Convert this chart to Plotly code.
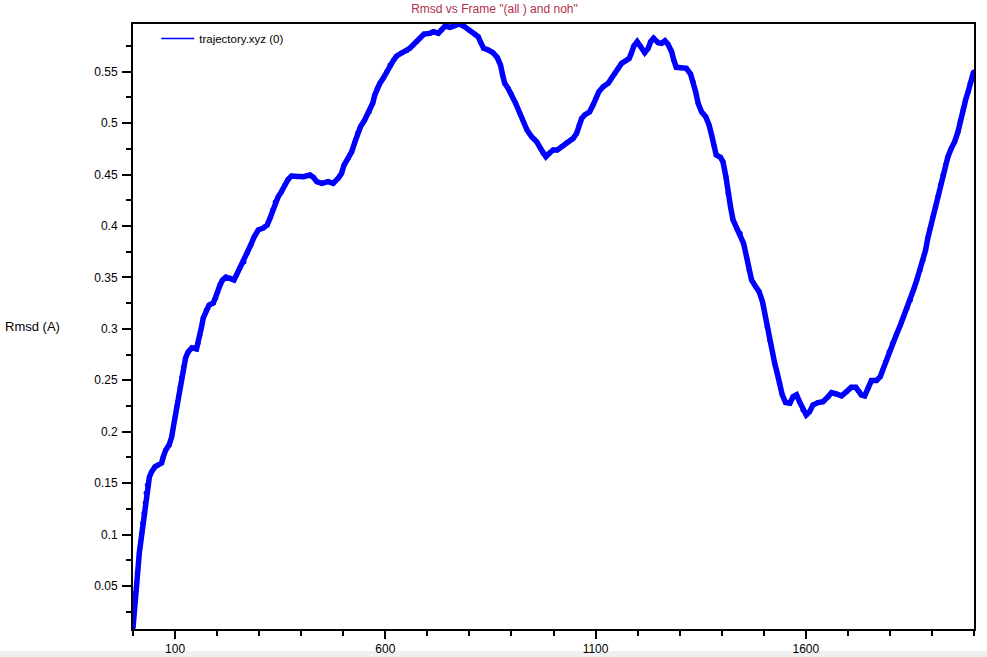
import plotly.graph_objects as go

# Frame numbers and RMSD values
frames = [0, 1, 2, 5, 6, 9, 10, 13, 15, 18, 21, 23, 26, 29, 31, 34, 39, 44, 52, 60, 68, 72, 78, 86, 92, 96,
          100, 104, 108, 112, 116, 120, 125, 131, 140, 151, 155, 159, 163, 167, 174, 181, 191, 197, 201, 207,
          213, 221, 231, 240, 246, 254, 264, 272, 280, 288, 298, 310, 319, 326, 332, 338, 345,
          353, 361, 369, 377, 389, 405, 421, 429, 437, 449, 464, 476, 488, 496, 502, 512, 520, 528, 534,
          541, 551, 562, 570, 575, 581, 587, 595, 603, 611, 620, 627, 639, 651, 658, 666, 674, 682,
          692, 706, 715, 726, 734, 742, 754, 765, 777, 789, 801, 813, 821, 826, 834, 845, 856, 866, 874,
          879, 884, 892, 900, 910, 920, 929, 937, 948, 960, 969, 975, 982, 990, 999, 1009, 1019, 1031, 1039,
          1047, 1055, 1061, 1067, 1074, 1086, 1094, 1101, 1108, 1118, 1130, 1138, 1146, 1154, 1162, 1172,
          1180, 1185, 1191, 1199, 1207, 1217, 1225, 1231, 1238, 1249, 1257, 1265, 1272, 1281, 1286, 1292,
          1304, 1316, 1326, 1332, 1338, 1344, 1352, 1362, 1370, 1376, 1381, 1387,
          1397, 1403, 1410, 1415, 1421, 1427, 1436, 1444, 1452, 1459, 1465, 1471, 1481, 1489, 1497, 1502,
          1508, 1514, 1521, 1526, 1532, 1538, 1544, 1552, 1562, 1570, 1578, 1585, 1593, 1601, 1609, 1617,
          1629, 1641, 1653, 1661, 1673, 1685, 1697, 1708, 1719, 1727, 1732, 1740, 1748, 1756, 1768, 1777,
          1783, 1790, 1798, 1806, 1815, 1825, 1833, 1841, 1849, 1856, 1864, 1872, 1879, 1885, 1890, 1896,
          1902, 1909, 1914, 1920, 1926, 1932, 1938, 1946, 1954, 1962, 1967, 1974, 1980, 1986, 1991, 1997, 1999]

rmsd = [0.0093, 0.0154, 0.0238, 0.0336, 0.0433, 0.053, 0.0627, 0.0724, 0.0822, 0.0919, 0.1016, 0.1113,
        0.1210, 0.1308, 0.1405, 0.1483, 0.1561, 0.1609, 0.1658, 0.1677, 0.1697, 0.1755, 0.1823, 0.1872,
        0.1949, 0.2047,
        0.2144, 0.2241, 0.2338, 0.2435, 0.2533, 0.2630, 0.2717, 0.2776, 0.2815, 0.2805, 0.2863, 0.2941,
        0.3019, 0.3106, 0.3184, 0.3232, 0.3252, 0.3300, 0.3359, 0.3427,
        0.3475, 0.3504, 0.3495, 0.3475, 0.3524, 0.3592, 0.3650, 0.3737, 0.3815, 0.3893, 0.3961, 0.3981,
        0.4010, 0.4078, 0.4156, 0.4233, 0.4282,
        0.4334, 0.4399, 0.4454, 0.4486, 0.4479, 0.4479, 0.4496, 0.4474, 0.4431, 0.4415, 0.4431, 0.4415,
        0.4464, 0.4512, 0.4593, 0.4658, 0.4722, 0.4820, 0.4901,
        0.4965, 0.5031, 0.5111, 0.5193, 0.5274, 0.5339, 0.5387, 0.5436, 0.5500, 0.5565, 0.5614, 0.5653,
        0.5685, 0.5704, 0.5727, 0.5760, 0.5792, 0.5825,
        0.5866, 0.5873, 0.5889, 0.5873, 0.5905, 0.5944, 0.5932, 0.5954, 0.5964, 0.5937, 0.5899, 0.5866,
        0.5840, 0.5792, 0.5727, 0.5711, 0.5685, 0.5640, 0.5565,
        0.5468, 0.5387, 0.5339, 0.5283, 0.5193, 0.5096, 0.5014, 0.4933, 0.4868, 0.4820, 0.4755, 0.4707,
        0.4674, 0.4707, 0.4739, 0.4739, 0.4771, 0.4810, 0.4829,
        0.4853, 0.4901, 0.4982, 0.5047, 0.5079, 0.5111, 0.5176, 0.5241, 0.5306, 0.5354, 0.5387, 0.5436,
        0.5484, 0.5533, 0.5582, 0.5607,
        0.5630, 0.5679, 0.5750, 0.5792, 0.5750, 0.5685, 0.5727, 0.5792, 0.5825, 0.5782, 0.5776, 0.5801,
        0.5769, 0.5694, 0.5614, 0.5543,
        0.5539, 0.5533, 0.5478, 0.5403, 0.5306, 0.5193, 0.5111, 0.5063, 0.4982, 0.4885, 0.4788, 0.4690,
        0.4668, 0.4625, 0.4479, 0.4318, 0.4188, 0.4059, 0.3978, 0.3929, 0.3832, 0.3702, 0.3573, 0.3475,
        0.3410, 0.3362, 0.3264, 0.3152,
        0.3021, 0.2892, 0.2763, 0.2666, 0.2569, 0.2471, 0.2358, 0.2283, 0.2277, 0.2341, 0.2358, 0.2292,
        0.2212, 0.2163, 0.2195, 0.2260,
        0.2283, 0.2292, 0.2341, 0.2380, 0.2367, 0.2348, 0.2390, 0.2432, 0.2432, 0.2390, 0.2358, 0.2348,
        0.2423, 0.2497, 0.2497, 0.2535,
        0.2600, 0.2681, 0.2778, 0.2860, 0.2941, 0.3038, 0.3119, 0.3200, 0.3281, 0.3378, 0.3475, 0.3573,
        0.3670, 0.3767, 0.3881, 0.3978,
        0.4091, 0.4188, 0.4285, 0.4399, 0.4496, 0.4593, 0.4674, 0.4755, 0.4820, 0.4917, 0.5014, 0.5128,
        0.5225, 0.5306, 0.5387, 0.5468, 0.5497]

x_major_ticks = [100, 600, 1100, 1600]
x_minor_ticks = [0, 200, 300, 400, 500, 700, 800, 900, 1000, 1200, 1300, 1400, 1500, 1700, 1800, 1900, 2000]
y_major_ticks = [0.05, 0.1, 0.15, 0.2, 0.25, 0.3, 0.35, 0.4, 0.45, 0.5, 0.55]
y_major_labels = ["0.05", "0.1", "0.15", "0.2", "0.25", "0.3", "0.35", "0.4", "0.45", "0.5", "0.55"]
y_minor_ticks = [0.025, 0.075, 0.125, 0.175, 0.225, 0.275, 0.325, 0.375, 0.425, 0.475, 0.525, 0.575]

series_name = "trajectory.xyz (0)"
title_text = 'Rmsd vs Frame "(all ) and noh"'
y_title = "Rmsd (A)"

FONT = "Liberation Sans, Arial, sans-serif"
BLUE = "#0000ff"

fig = go.Figure()
fig.add_trace(go.Scatter(
    x=frames, y=rmsd, mode="lines+markers",
    line=dict(color=BLUE, width=5.5),
    marker=dict(color=BLUE, size=5),
    showlegend=False, hoverinfo="skip",
))
fig.add_trace(go.Scatter(
    x=[None], y=[None], mode="lines", name=series_name,
    line=dict(color=BLUE, width=1.3), showlegend=True, hoverinfo="skip",
))

fig.update_layout(
    width=987, height=657, autosize=False,
    margin=dict(l=133, r=13, t=24, b=28, autoexpand=False),
    paper_bgcolor="white", plot_bgcolor="white",
    hovermode=False,
    font=dict(family=FONT, size=12, color="#000000"),
    title=dict(text=title_text, x=0.501, xanchor="center", y=0.986, yanchor="middle",
               font=dict(family=FONT, size=12, color="#b0304a")),
    legend=dict(x=0.0276, y=1.0, xanchor="left", yanchor="top",
                bgcolor="rgba(0,0,0,0)", borderwidth=0, itemwidth=33,
                font=dict(family=FONT, size=11.5, color="#000000")),
    xaxis=dict(
        range=[0, 2000], showgrid=False, zeroline=False, automargin=False,
        showline=True, linecolor="black", linewidth=2, mirror=True,
        tickmode="array", tickvals=x_major_ticks,
        ticktext=[str(v) for v in x_major_ticks],
        ticks="outside", ticklen=8, tickwidth=2, tickcolor="black",
        tickfont=dict(family=FONT, size=12, color="#000000"),
        minor=dict(tickmode="array", tickvals=x_minor_ticks, ticks="outside",
                   ticklen=5, tickwidth=2, tickcolor="black", showgrid=False),
    ),
    yaxis=dict(
        range=[0.0082, 0.5964], showgrid=False, zeroline=False, automargin=False,
        showline=True, linecolor="black", linewidth=2, mirror=True,
        tickmode="array", tickvals=y_major_ticks, ticktext=y_major_labels,
        ticks="outside", ticklen=9, tickwidth=2, tickcolor="black",
        ticklabelstandoff=2,
        tickfont=dict(family=FONT, size=12, color="#000000"),
        minor=dict(tickmode="array", tickvals=y_minor_ticks, ticks="outside",
                   ticklen=5, tickwidth=2, tickcolor="black", showgrid=False),
    ),
    annotations=[dict(
        text=y_title, xref="paper", yref="paper", x=0, y=0.5,
        xanchor="left", yanchor="middle", xshift=-130, showarrow=False,
        font=dict(family=FONT, size=13, color="#000000"),
    )],
    shapes=[dict(type="rect", xref="paper", yref="paper",
                 x0=-0.2, x1=1.1, y0=-0.0364, y1=-0.06,
                 fillcolor="#f0f0f0", line=dict(width=0), layer="below")],
)

post = ("document.documentElement.style.margin='0';"
        "document.documentElement.style.overflow='hidden';"
        "document.body.style.margin='0';"
        "document.body.style.overflow='hidden';")

fig.write_html("out.html",
               config={"displayModeBar": False, "responsive": False, "staticPlot": True},
               post_script=post)
